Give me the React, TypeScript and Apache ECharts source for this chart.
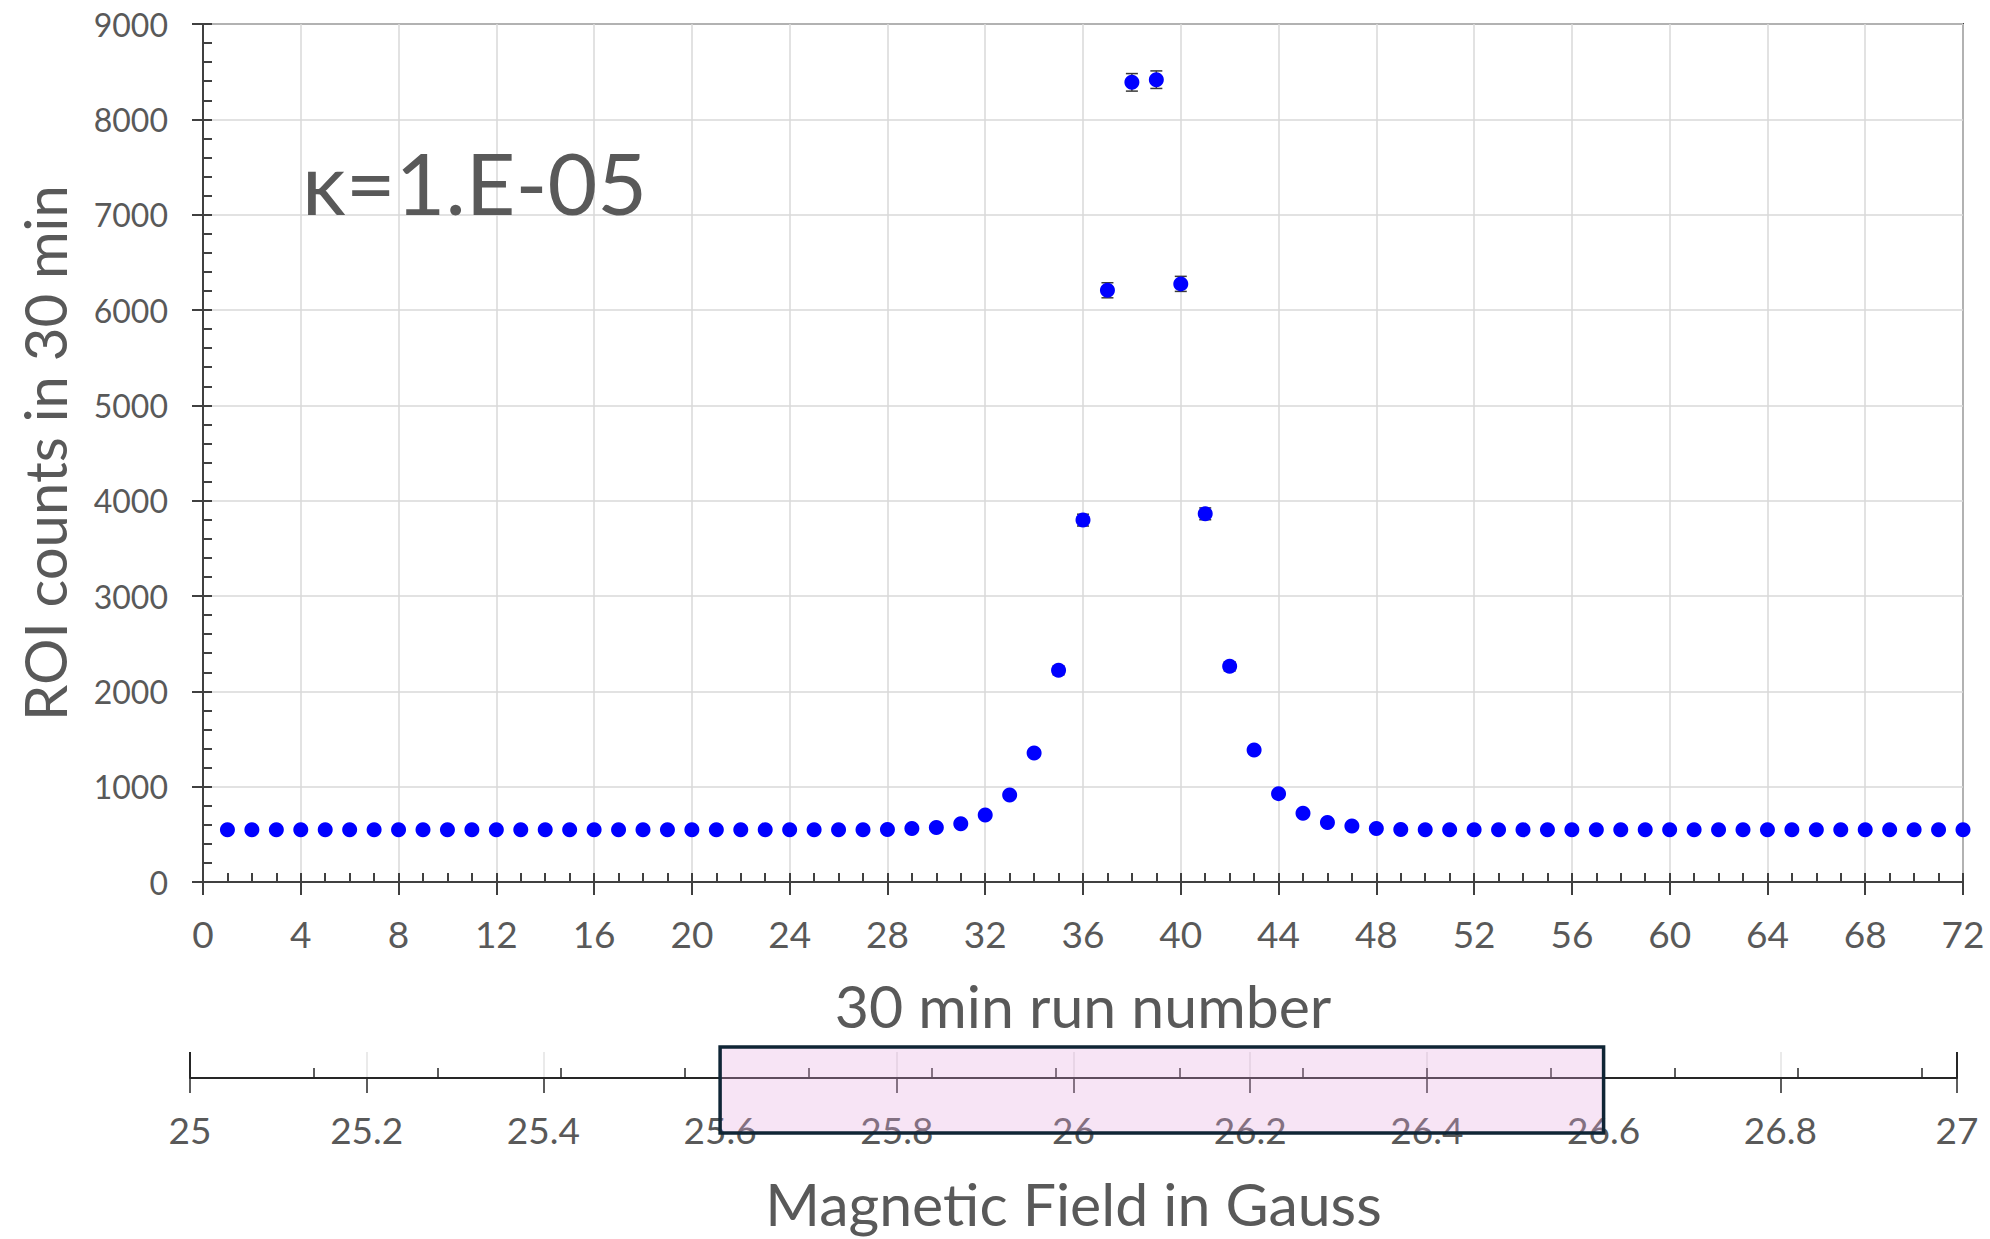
import React, { useEffect, useRef } from "react";
import * as echarts from "echarts";

// ---- data ----
const runs: number[] = [
  1, 2, 3, 4, 5, 6, 7, 8, 9, 10, 11, 12, 13, 14, 15, 16, 17, 18, 19, 20, 21, 22, 23, 24,
  25, 26, 27, 28, 29, 30, 31, 32, 33, 34, 35, 36, 37, 38, 39, 40, 41, 42, 43, 44, 45, 46, 47, 48,
  49, 50, 51, 52, 53, 54, 55, 56, 57, 58, 59, 60, 61, 62, 63, 64, 65, 66, 67, 68, 69, 70, 71, 72,
];
const counts: number[] = [
  548, 548, 548, 548, 548, 548, 548, 548, 548, 548, 548, 548, 548, 548, 548, 548, 548, 548, 548, 548, 548, 548, 548, 548,
  548, 548, 548, 550, 560, 572, 612, 703, 912, 1353, 2220, 3796, 6207, 8388, 8416, 6274, 3862, 2262, 1384, 927, 722, 623, 587, 560,
  550, 548, 548, 548, 548, 548, 548, 548, 548, 548, 548, 548, 548, 548, 548, 548, 548, 548, 548, 548, 548, 548, 548, 548,
];
const errors: number[] = [
  23, 23, 23, 23, 23, 23, 23, 23, 23, 23, 23, 23, 23, 23, 23, 23, 23, 23, 23, 23, 23, 23, 23, 23,
  23, 23, 23, 23, 24, 24, 25, 27, 30, 37, 47, 62, 79, 92, 92, 79, 62, 48, 37, 30, 27, 25, 24, 24,
  23, 23, 23, 23, 23, 23, 23, 23, 23, 23, 23, 23, 23, 23, 23, 23, 23, 23, 23, 23, 23, 23, 23, 23,
];
const runRange: number[] = [0, 72];
const countRange: number[] = [0, 9000];
const fieldRange: number[] = [25, 27];
const fieldMinorStep = 0.14;
const scanBox: number[] = [25.6, 26.6];
const annotation = "κ=1.E-05";
const xTitle = "30 min run number";
const yTitle = "ROI counts in 30 min";
const fieldTitle = "Magnetic Field in Gauss";

const FONT = "Lato, 'Noto Sans', sans-serif";
const TEXT = "#595959";
const AXIS = "#404040";

export default function App() {
  const ref = useRef<HTMLDivElement>(null);

  useEffect(() => {
    if (!ref.current) return;
    const chart = echarts.init(ref.current, null, { renderer: "svg" });

    const points = runs.map((r, i) => [r, counts[i]]);
    const bars = runs.map((r, i) => [r, counts[i], errors[i]]);
    const minorCount = (fieldRange[1] - fieldRange[0]) / fieldMinorStep;

    const kappa = {
      type: "text", left: 302, top: 138, z: 50,
      style: { text: annotation, fontSize: 86, fill: TEXT, fontFamily: FONT },
    };

    const option: any = {
      animation: false,
      backgroundColor: "#ffffff",
      textStyle: { fontFamily: FONT },
      grid: [
        {
          left: 203, top: 24, width: 1760, height: 858,
          show: true, borderColor: AXIS, borderWidth: 2, backgroundColor: "transparent",
        },
        { left: 190, top: 1052, width: 1767, height: 26 },
      ],
      xAxis: [
        {
          type: "value", gridIndex: 0, position: "bottom",
          min: runRange[0], max: runRange[1], interval: 4,
          axisLine: { onZero: false, lineStyle: { color: AXIS, width: 2 } },
          axisTick: { inside: false, length: 13, lineStyle: { color: AXIS, width: 2 } },
          axisLabel: { fontSize: 37, color: TEXT, margin: 33, fontFamily: FONT },
          splitLine: { show: true, lineStyle: { color: "#d9d9d9", width: 1.5 } },
          name: xTitle, nameLocation: "middle", nameGap: 94,
          nameTextStyle: { fontSize: 59, color: TEXT, fontFamily: FONT },
        },
        {
          type: "value", gridIndex: 0, position: "bottom",
          min: runRange[0], max: runRange[1], interval: 1,
          axisLine: { show: false, onZero: false },
          axisTick: { inside: true, length: 9, lineStyle: { color: AXIS, width: 2 } },
          axisLabel: { show: false }, splitLine: { show: false },
        },
        {
          type: "value", gridIndex: 1, position: "bottom",
          min: fieldRange[0], max: fieldRange[1], interval: 0.2,
          axisLine: { onZero: false, lineStyle: { color: "#262626", width: 2 } },
          axisTick: { inside: false, length: 15, lineStyle: { color: "#262626", width: 1.5 } },
          axisLabel: { fontSize: 37, color: TEXT, margin: 33, fontFamily: FONT },
          splitLine: { show: true, lineStyle: { color: "#e3e3e3", width: 1.5 } },
          name: fieldTitle, nameLocation: "middle", nameGap: 96,
          nameTextStyle: { fontSize: 59, color: TEXT, fontFamily: FONT },
        },
        {
          type: "value", gridIndex: 1, position: "bottom",
          min: 0, max: minorCount, interval: 1,
          axisLine: { show: false, onZero: false },
          axisTick: { inside: true, length: 10, lineStyle: { color: "#262626", width: 1.5 } },
          axisLabel: { show: false }, splitLine: { show: false },
        },
        {
          type: "value", gridIndex: 1, position: "bottom",
          min: fieldRange[0], max: fieldRange[1], interval: 2,
          axisLine: { show: false, onZero: false },
          axisTick: { inside: true, length: 26, lineStyle: { color: "#262626", width: 2 } },
          axisLabel: { show: false }, splitLine: { show: false },
        },
      ],
      yAxis: [
        {
          type: "value", gridIndex: 0, position: "left",
          min: countRange[0], max: countRange[1], interval: 1000,
          axisLine: { show: true, onZero: false, lineStyle: { color: AXIS, width: 2 } },
          axisTick: { show: true, inside: false, length: 11, lineStyle: { color: AXIS, width: 2 } },
          axisLabel: {
            fontSize: 32, color: TEXT, margin: 35, fontFamily: FONT,
            formatter: (v: number) => String(v),
          },
          splitLine: { show: true, lineStyle: { color: "#d9d9d9", width: 1.5 } },
          name: yTitle, nameLocation: "middle", nameGap: 130,
          nameTextStyle: { fontSize: 58, color: TEXT, fontFamily: FONT },
        },
        {
          type: "value", gridIndex: 0, position: "left",
          min: countRange[0], max: countRange[1], interval: 200,
          axisLine: { show: false, onZero: false },
          axisTick: { show: true, inside: true, length: 9, lineStyle: { color: AXIS, width: 2 } },
          axisLabel: { show: false }, splitLine: { show: false },
        },
        { type: "value", gridIndex: 1, min: 0, max: 1, show: false },
      ],
      series: [
        {
          type: "custom",
          xAxisIndex: 0, yAxisIndex: 0, z: 2,
          data: bars,
          renderItem: (params: any, api: any) => {
            const x = api.value(0);
            const y = api.value(1);
            const e = api.value(2);
            const top = api.coord([x, y + e]);
            const bot = api.coord([x, y - e]);
            const hw = 6;
            const style = { stroke: "#3a3a3a", lineWidth: 1.5 };
            return {
              type: "group",
              children: [
                { type: "line", shape: { x1: top[0], y1: top[1], x2: bot[0], y2: bot[1] }, style },
                { type: "line", shape: { x1: top[0] - hw, y1: top[1], x2: top[0] + hw, y2: top[1] }, style },
                { type: "line", shape: { x1: bot[0] - hw, y1: bot[1], x2: bot[0] + hw, y2: bot[1] }, style },
              ],
            };
          },
        },
        {
          type: "scatter",
          xAxisIndex: 0, yAxisIndex: 0, z: 3,
          symbol: "circle", symbolSize: 15,
          itemStyle: { color: "#0000ff", opacity: 1 },
          data: points,
        },
        { type: "scatter", xAxisIndex: 2, yAxisIndex: 2, data: [] },
      ],
      graphic: [kappa],
    };

    chart.setOption(option);

    const x1 = chart.convertToPixel({ xAxisIndex: 2 } as any, scanBox[0]) as number;
    const x2 = chart.convertToPixel({ xAxisIndex: 2 } as any, scanBox[1]) as number;
    chart.setOption({
      graphic: [
        kappa,
        {
          type: "rect", z: 100,
          shape: { x: x1, y: 1047, width: x2 - x1, height: 86 },
          style: { fill: "rgba(228,165,222,0.3)", stroke: "#0f2535", lineWidth: 3.5 },
        },
      ],
    });

    return () => chart.dispose();
  }, []);

  return (
    <div
      ref={ref}
      style={{ position: "fixed", left: 0, top: 0, width: 1990, height: 1239, background: "#fff" }}
    />
  );
}
